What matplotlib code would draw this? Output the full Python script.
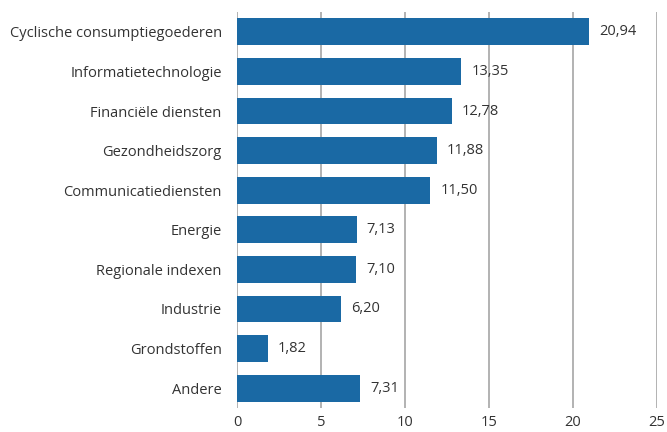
import matplotlib

matplotlib.use("Agg")
import matplotlib.pyplot as plt

categories = [
    "Cyclische consumptiegoederen",
    "Informatietechnologie",
    "Financiële diensten",
    "Gezondheidszorg",
    "Communicatiediensten",
    "Energie",
    "Regionale indexen",
    "Industrie",
    "Grondstoffen",
    "Andere",
]
values = [20.94, 13.35, 12.78, 11.88, 11.50, 7.13, 7.10, 6.20, 1.82, 7.31]
xticks = [0, 5, 10, 15, 20, 25]

plt.rcParams["font.family"] = ["Open Sans", "DejaVu Sans"]
text_color = "#333333"
bar_color = "#1a69a4"

fig = plt.figure(figsize=(6.67, 4.32), dpi=100)
ax = fig.add_axes([0.3553, 0.0556, 0.6297, 0.9166])

pos = list(range(len(categories)))
ax.barh(pos, values, height=0.68, color=bar_color, zorder=3)
for y, v in zip(pos, values):
    ax.text(v + 0.6, y, f"{v:.2f}".replace(".", ","), va="center", ha="left",
            fontsize=10.5, color=text_color)

ax.set_ylim(len(categories) - 0.5, -0.5)
ax.set_xlim(0, 25)
ax.set_yticks(pos)
ax.set_yticklabels(categories, fontsize=10.5, color=text_color)
ax.set_xticks(xticks)
ax.set_xticklabels([str(t) for t in xticks], fontsize=10.5, color=text_color)
ax.tick_params(axis="y", length=0, pad=11)
ax.tick_params(axis="x", length=0, pad=5)
ax.grid(axis="x", color="#a6a6a6", linewidth=1.2, zorder=0)
for s in ax.spines.values():
    s.set_visible(False)

fig.savefig("out.png", dpi=100)
